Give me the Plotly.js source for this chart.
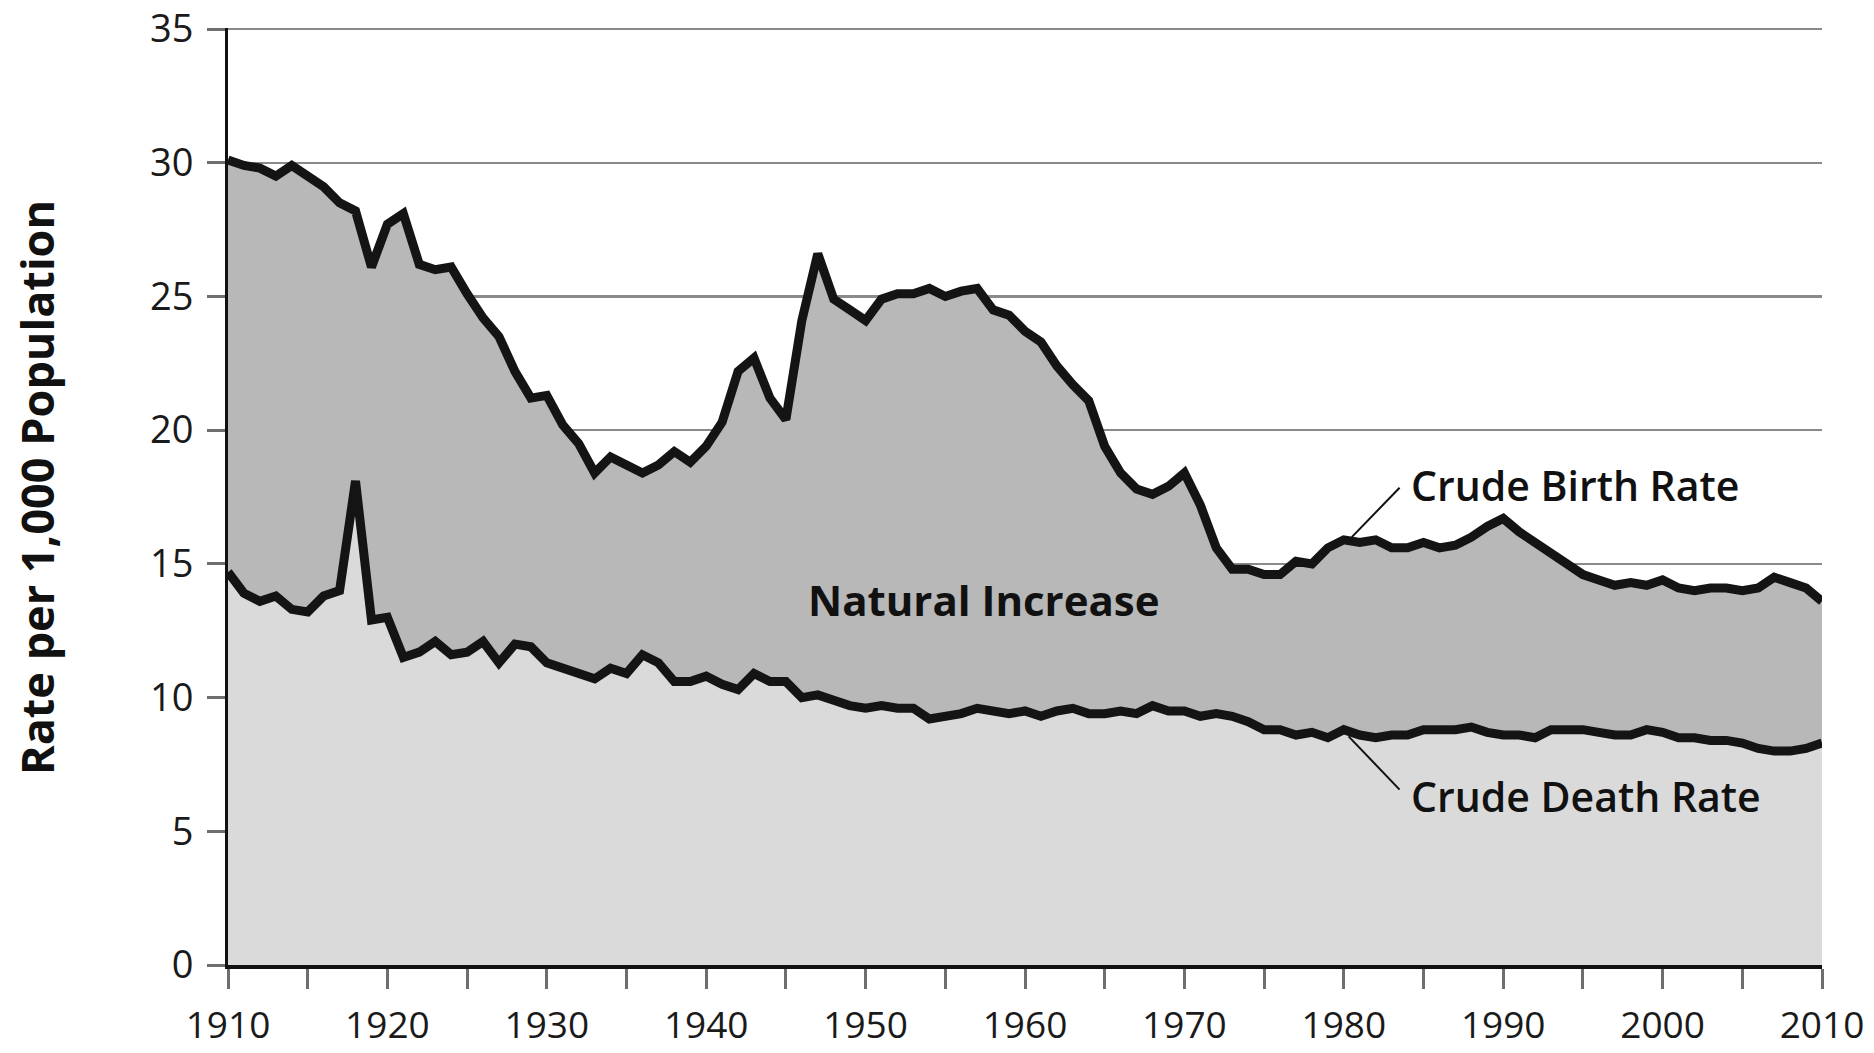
<!DOCTYPE html>
<html>
<head>
<meta charset="utf-8">
<script src="https://cdn.plot.ly/plotly-3.0.1.min.js"></script>
<style>
  html, body { margin: 0; padding: 0; background: #ffffff; }
  #chart { width: 1874px; height: 1053px; }
</style>
</head>
<body>
<div id="chart"></div>
<script>
const years = [1910,1911,1912,1913,1914,1915,1916,1917,1918,1919,
  1920,1921,1922,1923,1924,1925,1926,1927,1928,1929,
  1930,1931,1932,1933,1934,1935,1936,1937,1938,1939,
  1940,1941,1942,1943,1944,1945,1946,1947,1948,1949,
  1950,1951,1952,1953,1954,1955,1956,1957,1958,1959,
  1960,1961,1962,1963,1964,1965,1966,1967,1968,1969,
  1970,1971,1972,1973,1974,1975,1976,1977,1978,1979,
  1980,1981,1982,1983,1984,1985,1986,1987,1988,1989,
  1990,1991,1992,1993,1994,1995,1996,1997,1998,1999,
  2000,2001,2002,2003,2004,2005,2006,2007,2008,2009,2010];

const birthRate = [30.1,29.9,29.8,29.5,29.9,29.5,29.1,28.5,28.2,26.1,
  27.7,28.1,26.2,26.0,26.1,25.1,24.2,23.5,22.2,21.2,
  21.3,20.2,19.5,18.4,19.0,18.7,18.4,18.7,19.2,18.8,
  19.4,20.3,22.2,22.7,21.2,20.4,24.1,26.6,24.9,24.5,
  24.1,24.9,25.1,25.1,25.3,25.0,25.2,25.3,24.5,24.3,
  23.7,23.3,22.4,21.7,21.1,19.4,18.4,17.8,17.6,17.9,
  18.4,17.2,15.6,14.8,14.8,14.6,14.6,15.1,15.0,15.6,
  15.9,15.8,15.9,15.6,15.6,15.8,15.6,15.7,16.0,16.4,
  16.7,16.2,15.8,15.4,15.0,14.6,14.4,14.2,14.3,14.2,
  14.4,14.1,14.0,14.1,14.1,14.0,14.1,14.5,14.3,14.1,13.6];

const deathRate = [14.7,13.9,13.6,13.8,13.3,13.2,13.8,14.0,18.1,12.9,
  13.0,11.5,11.7,12.1,11.6,11.7,12.1,11.3,12.0,11.9,
  11.3,11.1,10.9,10.7,11.1,10.9,11.6,11.3,10.6,10.6,
  10.8,10.5,10.3,10.9,10.6,10.6,10.0,10.1,9.9,9.7,
  9.6,9.7,9.6,9.6,9.2,9.3,9.4,9.6,9.5,9.4,
  9.5,9.3,9.5,9.6,9.4,9.4,9.5,9.4,9.7,9.5,
  9.5,9.3,9.4,9.3,9.1,8.8,8.8,8.6,8.7,8.5,
  8.8,8.6,8.5,8.6,8.6,8.8,8.8,8.8,8.9,8.7,
  8.6,8.6,8.5,8.8,8.8,8.8,8.7,8.6,8.6,8.8,
  8.7,8.5,8.5,8.4,8.4,8.3,8.1,8.0,8.0,8.1,8.3];

const yTicks = [0,5,10,15,20,25,30,35];
const xTicks = [1910,1920,1930,1940,1950,1960,1970,1980,1990,2000,2010];
const xMinorTicks = [1915,1925,1935,1945,1955,1965,1975,1985,1995,2005];

const FONT = '"Open Sans", "DejaVu Sans", sans-serif';

const traces = [
  {
    x: years, y: deathRate, type: 'scatter', mode: 'lines',
    fill: 'tozeroy', fillcolor: '#dadada',
    line: {color: '#141414', width: 9, shape: 'linear'},
    hoverinfo: 'skip', showlegend: false, name: 'Crude Death Rate'
  },
  {
    x: years, y: birthRate, type: 'scatter', mode: 'lines',
    fill: 'tonexty', fillcolor: '#b8b8b8',
    line: {color: '#141414', width: 9, shape: 'linear'},
    hoverinfo: 'skip', showlegend: false, name: 'Crude Birth Rate'
  }
];

const layout = {
  width: 1874, height: 1053,
  paper_bgcolor: '#ffffff', plot_bgcolor: '#ffffff',
  margin: {l: 228, r: 52, t: 28, b: 88, pad: 0},
  font: {family: FONT, color: '#1a1a1a'},
  showlegend: false,
  xaxis: {
    range: [1910, 2010],
    tickvals: xTicks, ticktext: xTicks.map(String),
    ticks: 'outside', ticklen: 20, tickwidth: 3, tickcolor: '#6e6e6e',
    minor: {tickvals: xMinorTicks, ticks: 'outside', ticklen: 20, tickwidth: 3, tickcolor: '#6e6e6e', showgrid: false},
    showline: true, linecolor: '#111111', linewidth: 4,
    showgrid: false, zeroline: false,
    tickfont: {family: FONT, size: 37, color: '#1a1a1a'},
    ticklabelstandoff: 5,
    ticklabeloverflow: 'allow'
  },
  yaxis: {
    range: [0, 35.04],
    tickvals: yTicks, ticktext: yTicks.map(String),
    ticks: 'outside', ticklen: 18, tickwidth: 3, tickcolor: '#6e6e6e',
    showline: true, linecolor: '#111111', linewidth: 3,
    showgrid: true, gridcolor: '#8a8a8a', gridwidth: 2.5,
    zeroline: false,
    tickfont: {family: FONT, size: 38, color: '#1a1a1a'},
    ticklabelstandoff: 6,
    ticklabeloverflow: 'allow'
  },
  shapes: [
    {type: 'line', xref: 'x', yref: 'y', x0: 1980.5, y0: 16.0, x1: 1983.5, y1: 17.85,
     line: {color: '#111111', width: 2}},
    {type: 'line', xref: 'x', yref: 'y', x0: 1980.3, y0: 8.55, x1: 1983.5, y1: 6.56,
     line: {color: '#111111', width: 2}}
  ],
  annotations: [
    {text: '<b>Rate per 1,000 Population</b>', xref: 'paper', yref: 'paper',
     x: -0.1205, y: 0.51, xanchor: 'center', yanchor: 'middle', textangle: -90,
     showarrow: false, font: {family: FONT, size: 45, color: '#111111'}},
    {text: '<b>Natural Increase</b>', xref: 'x', yref: 'y', x: 1957.4, y: 13.67,
     xanchor: 'center', yanchor: 'middle', showarrow: false,
     font: {family: FONT, size: 42, color: '#111111'}},
    {text: 'Crude Birth Rate', xref: 'x', yref: 'y', x: 1984.1, y: 17.96,
     xanchor: 'left', yanchor: 'middle', showarrow: false,
     font: {family: FONT, size: 41, color: '#111111', weight: 600}},
    {text: 'Crude Death Rate', xref: 'x', yref: 'y', x: 1984.1, y: 6.33,
     xanchor: 'left', yanchor: 'middle', showarrow: false,
     font: {family: FONT, size: 41, color: '#111111', weight: 600}}
  ]
};

Plotly.newPlot('chart', traces, layout, {displayModeBar: false, staticPlot: true});
</script>
</body>
</html>
